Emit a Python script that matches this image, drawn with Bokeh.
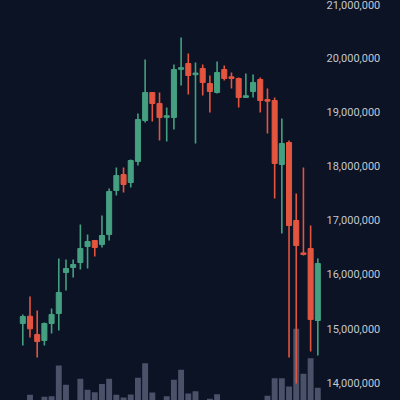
import numpy as np
from bokeh.plotting import figure
from bokeh.models import Range1d, SingleIntervalTicker, NumeralTickFormatter, ColumnDataSource
from bokeh.embed import file_html
from bokeh.resources import INLINE

# OHLC in millions
opens  = [15.093, 15.228, 14.889, 14.778, 15.093, 15.278, 16.037, 16.130, 16.222, 16.519,
          16.630, 16.556, 16.741, 17.556, 17.852, 17.704, 18.093, 18.852, 19.370, 19.167,
          18.910, 18.907, 19.800, 19.907, 19.700, 19.815, 19.537, 19.370, 19.796, 19.660,
          19.630, 19.280, 19.389, 19.611, 19.240, 19.222, 18.037, 18.444, 17.000, 16.400,
          16.481, 15.148]
highs  = [15.259, 15.593, 15.333, 15.111, 15.370, 16.296, 16.278, 16.278, 16.926, 16.741,
          16.640, 17.093, 17.593, 17.981, 17.981, 18.130, 18.981, 19.981, 19.380, 19.370,
          19.093, 19.889, 20.389, 20.093, 19.926, 19.889, 19.685, 19.944, 19.870, 19.741,
          19.650, 19.722, 19.704, 19.648, 19.444, 19.278, 18.889, 18.481, 17.500, 17.981,
          16.907, 16.296]
lows   = [14.685, 14.833, 14.463, 14.685, 14.907, 14.963, 15.704, 15.944, 16.093, 16.111,
          16.333, 16.500, 16.630, 17.463, 17.519, 17.611, 18.019, 18.815, 18.833, 18.481,
          18.463, 18.685, 19.500, 19.333, 18.426, 19.315, 19.000, 19.352, 19.593, 19.444,
          19.093, 19.270, 19.278, 19.000, 18.611, 17.407, 16.759, 14.463, 13.981, 16.352,
          14.574, 14.500]
closes = [15.222, 14.994, 14.759, 15.093, 15.259, 15.667, 16.111, 16.185, 16.481, 16.611,
          16.500, 16.722, 17.537, 17.833, 17.667, 18.111, 18.870, 19.370, 19.167, 18.907,
          18.940, 19.796, 19.830, 19.685, 19.730, 19.556, 19.389, 19.741, 19.630, 19.630,
          19.278, 19.310, 19.556, 19.222, 19.210, 18.056, 18.426, 16.907, 16.537, 16.370,
          15.167, 16.204]
volumes = [0, 57, 0, 37, 43, 350, 157, 0, 217, 107,
           83, 165, 217, 58, 31, 60, 227, 373, 80, 0,
           43, 208, 307, 70, 92, 0, 17, 63, 0, 0,
           0, 0, 0, 0, 47, 223, 223, 140, 717, 267,
           423, 127]

BG = "#0b1325"
GREEN = "#45a081"
RED = "#e4553f"
VOL = "#4b5169"

n = len(opens)
idx = np.arange(n)
o = np.array(opens) * 1e6
h = np.array(highs) * 1e6
l = np.array(lows) * 1e6
c = np.array(closes) * 1e6
up = c >= o
colors = [GREEN if u else RED for u in up]
top = np.maximum(o, c)
bot = np.minimum(o, c)

src = ColumnDataSource(dict(x=idx, o=o, h=h, l=l, c=c, top=top, bot=bot,
                            color=colors, vol=np.array(volumes)))

p = figure(width=400, height=400, output_backend="svg", toolbar_location=None,
           x_range=Range1d(-3.1, 41.65), y_range=Range1d(13.6667e6, 21.074e6),
           y_axis_location="right", x_axis_location=None,
           min_border_left=0, min_border_top=0, min_border_bottom=0, min_border_right=78,
           background_fill_color=BG, border_fill_color=BG, outline_line_color=None)
p.extra_y_ranges = {"vol": Range1d(0, 4000)}

p.xgrid.visible = False
p.ygrid.visible = False

ax = p.yaxis[0]
ax.ticker = SingleIntervalTicker(interval=1_000_000)
ax.formatter = NumeralTickFormatter(format="0,0")
ax.axis_line_color = None
ax.major_tick_line_color = None
ax.minor_tick_line_color = None
ax.major_tick_in = 0
ax.major_tick_out = 0
ax.major_label_standoff = 0
ax.major_label_text_color = "#c3c7d0"
ax.major_label_text_font = "Roboto"
ax.major_label_text_font_size = "11px"

p.vbar(x="x", top="vol", bottom=0, width=0.82, source=src, y_range_name="vol",
       fill_color=VOL, line_color=None)
p.segment(x0="x", y0="l", x1="x", y1="h", source=src, line_color="color", line_width=1.6)
p.vbar(x="x", top="top", bottom="bot", width=0.7, source=src,
       fill_color="color", line_color="color", line_width=1)

html = file_html(p, INLINE)
html = html.replace("</head>", "<style>html,body{margin:0;padding:0;background:%s;overflow:hidden;}</style></head>" % BG, 1)
open("out.html", "w").write(html)
